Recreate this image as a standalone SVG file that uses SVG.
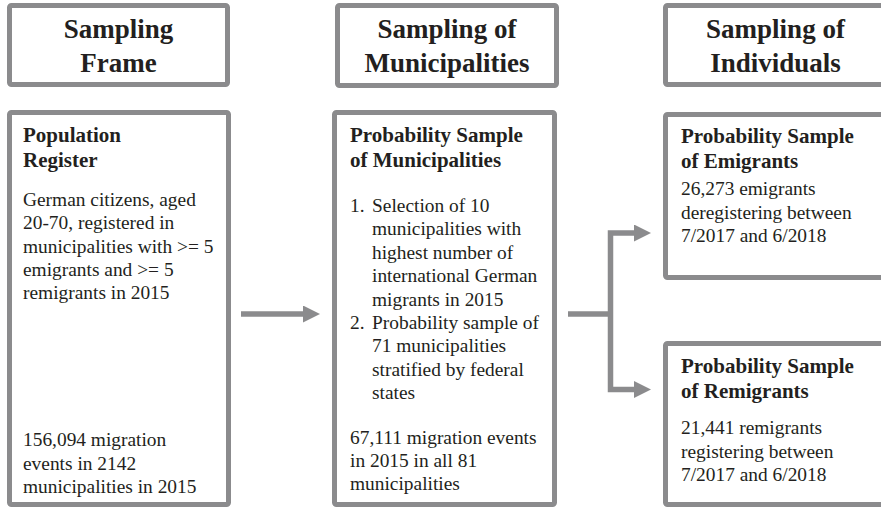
<svg xmlns="http://www.w3.org/2000/svg" width="881" height="508" viewBox="0 0 881 508">
<style>
.box{fill:#fff;stroke:#8b8b8d;stroke-width:5}
.hd{font-family:"Liberation Serif","Times New Roman",serif;font-weight:bold;font-size:27px;fill:#231f20;text-anchor:middle}
.tt{font-family:"Liberation Serif","Times New Roman",serif;font-weight:bold;font-size:21px;fill:#231f20}
.tx{font-family:"Liberation Serif","Times New Roman",serif;font-size:19.4px;fill:#231f20}
.con{fill:none;stroke:#8b8b8d;stroke-width:5.5}
</style>
<defs>
<marker id="ah" viewBox="0 0 17 17" markerWidth="17" markerHeight="17" markerUnits="userSpaceOnUse" refX="0" refY="8.5" orient="auto">
<path d="M0,0 L17,8.5 L0,17 Z" fill="#8b8b8d"/>
</marker>
</defs>
<rect width="881" height="508" fill="#fff"/>
<g id="header-frame">
<rect class="box" x="9.5" y="5.5" width="218" height="79" rx="2"/>
<text class="hd" x="118.5" y="37.5">Sampling</text>
<text class="hd" x="118.5" y="72">Frame</text>
</g>
<g id="header-municipalities">
<rect class="box" x="337.5" y="5.5" width="219" height="80" rx="2"/>
<text class="hd" x="447" y="37.5">Sampling of</text>
<text class="hd" x="447" y="72">Municipalities</text>
</g>
<g id="header-individuals">
<rect class="box" x="665.5" y="5.5" width="219" height="79" rx="2"/>
<text class="hd" x="775.5" y="37.5">Sampling of</text>
<text class="hd" x="775.5" y="72">Individuals</text>
</g>
<g id="population-register">
<rect class="box" x="9.5" y="112.5" width="219" height="392" rx="2"/>
<text class="tt" x="23" y="142">Population</text>
<text class="tt" x="23" y="167">Register</text>
<text class="tx" x="23" y="206">German citizens, aged</text>
<text class="tx" x="23" y="229.3">20-70, registered in</text>
<text class="tx" x="23" y="252.6">municipalities with &gt;= 5</text>
<text class="tx" x="23" y="275.9">emigrants and &gt;= 5</text>
<text class="tx" x="23" y="299.2">remigrants in 2015</text>
<text class="tx" x="23" y="446">156,094 migration</text>
<text class="tx" x="23" y="469.5">events in 2142</text>
<text class="tx" x="23" y="493">municipalities in 2015</text>
</g>
<g id="sample-municipalities">
<rect class="box" x="334.5" y="112.5" width="220" height="392" rx="2"/>
<text class="tt" x="350" y="142">Probability Sample</text>
<text class="tt" x="350" y="167">of Municipalities</text>
<text class="tx" x="350" y="212">1.</text>
<text class="tx" x="372" y="212">Selection of 10</text>
<text class="tx" x="372" y="235.4">municipalities with</text>
<text class="tx" x="372" y="258.8">highest number of</text>
<text class="tx" x="372" y="282.2">international German</text>
<text class="tx" x="372" y="305.6">migrants in 2015</text>
<text class="tx" x="350" y="329">2.</text>
<text class="tx" x="372" y="329">Probability sample of</text>
<text class="tx" x="372" y="352.4">71 municipalities</text>
<text class="tx" x="372" y="375.8">stratified by federal</text>
<text class="tx" x="372" y="399.2">states</text>
<text class="tx" x="350" y="443.5">67,111 migration events</text>
<text class="tx" x="350" y="466.9">in 2015 in all 81</text>
<text class="tx" x="350" y="490.3">municipalities</text>
</g>
<g id="sample-emigrants">
<rect class="box" x="665.5" y="114.5" width="220" height="163" rx="2"/>
<text class="tt" x="681" y="143">Probability Sample</text>
<text class="tt" x="681" y="168">of Emigrants</text>
<text class="tx" x="681" y="195">26,273 emigrants</text>
<text class="tx" x="681" y="218.5">deregistering between</text>
<text class="tx" x="681" y="242">7/2017 and 6/2018</text>
</g>
<g id="sample-remigrants">
<rect class="box" x="665.5" y="343.5" width="220" height="161" rx="2"/>
<text class="tt" x="681" y="373">Probability Sample</text>
<text class="tt" x="681" y="398">of Remigrants</text>
<text class="tx" x="681" y="434">21,441 remigrants</text>
<text class="tx" x="681" y="457.5">registering between</text>
<text class="tx" x="681" y="481">7/2017 and 6/2018</text>
</g>
<g id="connectors">
<path class="con" d="M241,314 H303" marker-end="url(#ah)"/>
<path class="con" d="M568,314 H613"/>
<path class="con" d="M610.5,314 V233 H634" marker-end="url(#ah)"/>
<path class="con" d="M610.5,314 V389.5 H634" marker-end="url(#ah)"/>
</g>
</svg>
